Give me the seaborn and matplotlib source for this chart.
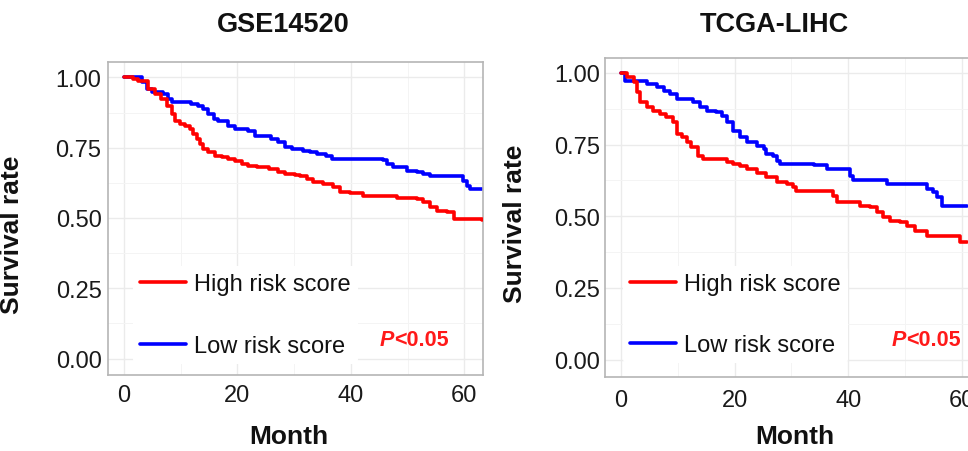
import numpy as np
import pandas as pd
import matplotlib
matplotlib.use("Agg")
import matplotlib.pyplot as plt
import seaborn as sns
from matplotlib.ticker import MultipleLocator, FixedLocator

# ---------------- data ----------------
groups = ["High risk score", "Low risk score"]
titles = ["GSE14520", "TCGA-LIHC"]
x_ticks = [0, 20, 40, 60]
y_ticks = [0.00, 0.25, 0.50, 0.75, 1.00]
y_tick_labels = ["0.00", "0.25", "0.50", "0.75", "1.00"]
x_label = "Month"
y_label = "Survival rate"
p_italic = "P"
p_rest = "<0.05"

gse_high_month = [0, 1.6, 2.5, 4.3, 5.5, 6.6, 7.5, 8.4, 9.0, 9.9, 10.8, 11.6, 12.2, 12.8, 13.4,
                  14.0, 14.9, 16.0, 17.2, 18.4, 19.6, 20.8, 21.9, 23.5, 25.5, 27.2, 28.4, 30.2,
                  31.0, 32.2, 33.4, 35.1, 36.9, 38.1, 39.9, 42.2, 46.9, 48.1, 51.6, 52.8, 54.0,
                  55.2, 56.9, 58.1, 63.1]
gse_high_surv = [1.0, 0.995, 0.989, 0.959, 0.941, 0.923, 0.9, 0.87, 0.846, 0.835, 0.829, 0.817,
                 0.799, 0.781, 0.763, 0.746, 0.734, 0.722, 0.716, 0.71, 0.704, 0.692, 0.686, 0.68,
                 0.674, 0.663, 0.657, 0.653, 0.648, 0.639, 0.629, 0.621, 0.609, 0.591, 0.589,
                 0.579, 0.577, 0.57, 0.568, 0.556, 0.538, 0.526, 0.52, 0.496, 0.494]

gse_low_month = [0, 1.6, 3.1, 4.0, 4.9, 6.9, 7.8, 8.4, 11.9, 13.1, 14.0, 14.9, 15.8, 16.6, 18.4,
                 19.6, 21.9, 23.1, 24.3, 26.0, 27.2, 28.4, 29.6, 31.6, 32.8, 34.0, 35.7, 36.6,
                 45.7, 46.3, 47.5, 49.9, 51.6, 52.8, 54.0, 59.8, 60.4, 61.0, 63.1]
gse_low_surv = [1.0, 1.0, 0.983, 0.959, 0.947, 0.941, 0.923, 0.912, 0.906, 0.9, 0.888, 0.87,
                0.852, 0.846, 0.829, 0.817, 0.811, 0.793, 0.791, 0.781, 0.769, 0.752, 0.746,
                0.74, 0.734, 0.728, 0.722, 0.71, 0.706, 0.692, 0.68, 0.668, 0.663, 0.657, 0.651,
                0.633, 0.615, 0.603, 0.603]

tcga_high_month = [0, 1.0, 2.2, 2.8, 3.3, 4.5, 5.7, 6.9, 8.0, 9.2, 9.8, 10.7, 11.6, 12.4, 13.6,
                   14.5, 18.6, 19.8, 21.0, 22.1, 23.9, 25.6, 27.4, 29.2, 30.3, 30.9, 37.4, 38.0,
                   42.1, 43.8, 45.0, 46.2, 47.4, 49.1, 50.3, 51.8, 53.8, 59.7, 61.0]
tcga_high_surv = [1.0, 0.985, 0.967, 0.932, 0.897, 0.88, 0.868, 0.857, 0.845, 0.828, 0.787,
                  0.776, 0.758, 0.741, 0.711, 0.7, 0.688, 0.682, 0.674, 0.665, 0.651, 0.636,
                  0.621, 0.613, 0.601, 0.589, 0.572, 0.548, 0.537, 0.531, 0.514, 0.496, 0.485,
                  0.479, 0.467, 0.45, 0.43, 0.411, 0.411]

tcga_low_month = [0, 0.7, 4.5, 6.3, 7.5, 8.6, 9.8, 12.7, 13.9, 15.1, 16.8, 17.7, 18.6, 19.8,
                  21.0, 22.1, 23.9, 25.1, 25.6, 26.8, 27.4, 28.0, 33.9, 36.2, 40.3, 40.9, 46.8,
                  53.8, 55.0, 55.6, 56.5, 61.0]
tcga_low_surv = [1.0, 0.973, 0.962, 0.95, 0.938, 0.927, 0.909, 0.898, 0.88, 0.868, 0.863,
                 0.851, 0.828, 0.799, 0.775, 0.758, 0.746, 0.735, 0.717, 0.711, 0.694, 0.682,
                 0.677, 0.665, 0.642, 0.628, 0.613, 0.595, 0.583, 0.566, 0.537, 0.537]

palette = {"High risk score": "#ff0000", "Low risk score": "#0000ff"}


def make_df(hm, hs, lm, ls):
    return pd.concat([
        pd.DataFrame({"month": hm, "surv": hs, "group": groups[0]}),
        pd.DataFrame({"month": lm, "surv": ls, "group": groups[1]}),
    ], ignore_index=True)


dfs = [make_df(gse_high_month, gse_high_surv, gse_low_month, gse_low_surv),
       make_df(tcga_high_month, tcga_high_surv, tcga_low_month, tcga_low_surv)]

# ---------------- style ----------------
sns.set_style("white")
plt.rcParams["font.family"] = ["Liberation Sans", "DejaVu Sans"]

W, H = 968, 452
fig = plt.figure(figsize=(W / 100, H / 100), dpi=100)

# pixel layouts: left, right, top, bottom
boxes = [(108, 483, 63, 376), (605, 980.5, 59, 378.3)]
xlims = [(-2.82, 63.3), (-2.82, 63.3)]
ylims = [(-0.0587, 1.055), (-0.062, 1.052)]
xpads = [4.2, 6.2]
ypads = [2.4, 1.2]
ylab_pos = [(-0.224, 0.45), (-0.208, 0.485)]
title_pos = [(283, 25), (774.5, 25)]
month_pos = [(289, 437), (795, 437)]
leg_anchor = [(0.066, 0.347), (0.048, 0.349)]
p_pos = [(45.15, 0.066), (47.66, 0.069)]

for i, df in enumerate(dfs):
    l, r, t, b = boxes[i]
    ax = fig.add_axes([l / W, 1 - b / H, (r - l) / W, (b - t) / H])
    sns.lineplot(data=df, x="month", y="surv", hue="group", hue_order=groups,
                 palette=palette, estimator=None, drawstyle="steps-post",
                 linewidth=2.6, ax=ax)
    for line in ax.lines:
        if line.get_color() in ("#ff0000", "red"):
            line.set_zorder(3)

    ax.set_xlim(*xlims[i])
    ax.set_ylim(*ylims[i])
    ax.xaxis.set_major_locator(FixedLocator(x_ticks))
    ax.xaxis.set_minor_locator(MultipleLocator(10))
    ax.yaxis.set_major_locator(FixedLocator(y_ticks))
    ax.yaxis.set_minor_locator(MultipleLocator(0.125))
    ax.set_yticklabels(y_tick_labels)
    ax.grid(True, which="major", color="#ebebeb", linewidth=1.0)
    ax.grid(True, which="minor", color="#f4f4f4", linewidth=0.7)
    ax.set_axisbelow(True)
    for sp in ax.spines.values():
        sp.set_color("#b5b5b5")
        sp.set_linewidth(1.2)
    ax.tick_params(axis="both", which="major", length=2.2, width=0.8, color="#999999",
                   labelsize=17, labelcolor="#1a1a1a")
    ax.tick_params(axis="x", pad=xpads[i])
    ax.tick_params(axis="y", pad=ypads[i])
    ax.tick_params(which="minor", length=0)

    ax.set_xlabel("")
    ax.set_ylabel(y_label, fontsize=19, fontweight="bold", color="#111111")
    ax.yaxis.set_label_coords(*ylab_pos[i])

    fig.text(title_pos[i][0] / W, 1 - title_pos[i][1] / H, titles[i], ha="center",
             va="center", fontsize=19.5, fontweight="bold", color="#111111")
    fig.text(month_pos[i][0] / W, 1 - month_pos[i][1] / H, x_label, ha="center",
             va="center", fontsize=19, fontweight="bold", color="#111111")

    sns.move_legend(ax, loc="upper left", bbox_to_anchor=leg_anchor[i], title=None,
                    frameon=True, fontsize=17, handlelength=1.95, handletextpad=0.35,
                    labelspacing=1.67, borderpad=0.3, borderaxespad=0)
    leg = ax.get_legend()
    leg.get_frame().set_facecolor("white")
    leg.get_frame().set_edgecolor("none")
    leg.get_frame().set_alpha(1)
    for h in leg.legend_handles:
        h.set_linewidth(2.6)
    for txt in leg.get_texts():
        txt.set_color("#111111")

    pt = ax.text(p_pos[i][0], p_pos[i][1], p_italic, ha="left", va="center",
                 fontsize=15.5, fontweight="bold", fontstyle="italic", color="#ff1a1a",
                 zorder=5)
    ax.annotate(p_rest, xy=(1, 0), xycoords=pt, ha="left", va="bottom",
                fontsize=15.5, fontweight="bold", color="#ff1a1a", zorder=5)

fig.savefig("out.png", dpi=100)
